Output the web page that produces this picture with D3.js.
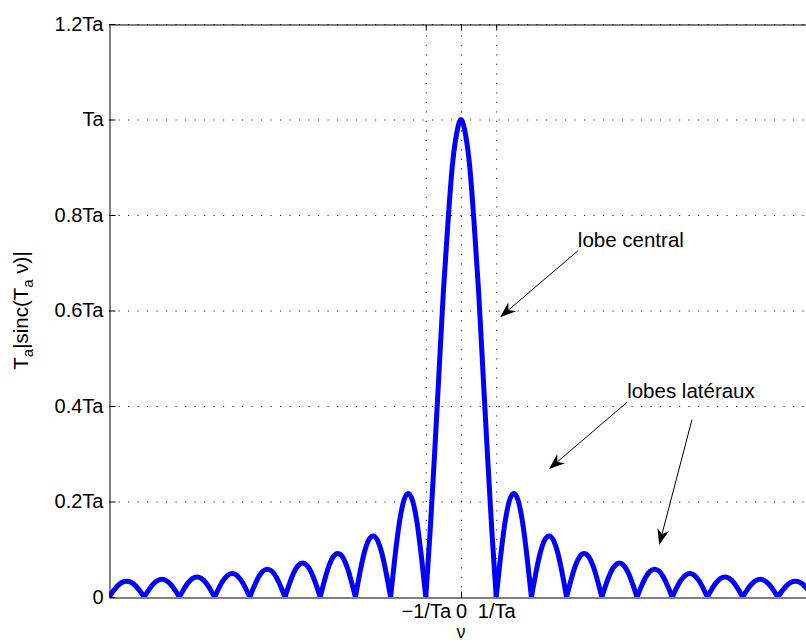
<!DOCTYPE html>
<html lang="fr">
  <head>
    <meta charset="UTF-8" />
    <title>Ta |sinc(Ta v)|</title>
    <script src="https://d3js.org/d3.v7.min.js"></script>
    <style>
      body {
        margin: 0;
        background: #fff;
      }
      svg {
        display: block;
        font-family: "Liberation Sans", Arial, sans-serif;
      }
    </style>
  </head>
  <body>
    <script>
      // tick values and labels (x in units of 1/Ta, y in units of Ta)
      const xTicks = [-1, 0, 1];
      const xTickLabels = ["\u22121/Ta", "0", "1/Ta"];
      const yTicks = [0, 0.2, 0.4, 0.6, 0.8, 1, 1.2];
      const yTickLabels = ["0", "0.2Ta", "0.4Ta", "0.6Ta", "0.8Ta", "Ta", "1.2Ta"];

      // central lobe
      const mainX = [-1, -0.875, -0.75, -0.625, -0.5, -0.375, -0.25, -0.125, 0,
                     0.125, 0.25, 0.375, 0.5, 0.625, 0.75, 0.875, 1];
      const mainY = [0, 0.14, 0.30, 0.47, 0.64, 0.78, 0.90, 0.97, 1.0,
                     0.97, 0.90, 0.78, 0.64, 0.47, 0.30, 0.14, 0];

      // side lobes: peak height of lobe [n, n+1] (same on the left side)
      const sideLobePeaks = [0.217, 0.128, 0.091, 0.071, 0.058, 0.049, 0.042, 0.037, 0.033];
      // normalised shape of one side lobe, sampled across its width
      const lobeFrac = [0, 0.125, 0.25, 0.375, 0.5, 0.625, 0.75, 0.875, 1];
      const lobeShape = [0, 0.39, 0.72, 0.93, 1, 0.93, 0.72, 0.39, 0];

      // annotations (data coordinates)
      const labels = [
        { text: "lobe central", x: 3.32, y: 0.733 },
        { text: "lobes lat\u00e9raux", x: 4.72, y: 0.417 }
      ];
      const arrows = [
        { x1: 3.32, y1: 0.725, x2: 1.11, y2: 0.586 },
        { x1: 4.72, y1: 0.408, x2: 2.5, y2: 0.268 },
        { x1: 6.56, y1: 0.371, x2: 5.63, y2: 0.109 }
      ];

      const width = 806, height = 644;
      const x = d3.scaleLinear().domain([-10, 10]).range([109, 813]);
      const y = d3.scaleLinear().domain([0, 1.2]).range([597, 24]);

      const svg = d3.select("body").append("svg")
        .attr("width", width)
        .attr("height", height);

      svg.append("defs").append("clipPath").attr("id", "plotclip")
        .append("rect")
        .attr("x", x(-10)).attr("y", y(1.2))
        .attr("width", x(10) - x(-10)).attr("height", y(0) - y(1.2));

      // dotted grid
      const grid = svg.append("g")
        .attr("stroke", "#222")
        .attr("stroke-width", 1)
        .attr("stroke-dasharray", "1.2,8.3");
      grid.selectAll(".gy").data(yTicks.filter(d => d > 0)).join("line")
        .attr("x1", x(-10)).attr("x2", x(10))
        .attr("y1", d => y(d) + 0.5).attr("y2", d => y(d) + 0.5);
      grid.selectAll(".gx").data(xTicks).join("line")
        .attr("x1", d => x(d) + 0.5).attr("x2", d => x(d) + 0.5)
        .attr("y1", y(0)).attr("y2", y(1.2));

      // axes, MATLAB style: ticks pointing inward, box all round
      function styleAxis(g) {
        g.attr("font-size", 20)
          .attr("font-family", "'Liberation Sans', Arial, sans-serif");
        g.selectAll("text").attr("fill", "#000");
        g.selectAll("line, path").attr("stroke", "#000");
      }

      svg.append("g")
        .attr("transform", `translate(${x(-10) + 0.5},0)`)
        .call(d3.axisLeft(y).tickValues(yTicks)
          .tickFormat((d, i) => yTickLabels[i])
          .tickSizeInner(-6).tickSizeOuter(0).tickPadding(6))
        .call(styleAxis);

      svg.append("g")
        .attr("transform", `translate(0,${y(0) + 0.5})`)
        .call(d3.axisBottom(x).tickValues(xTicks)
          .tickFormat((d, i) => xTickLabels[i])
          .tickSizeInner(-6).tickSizeOuter(0).tickPadding(6))
        .call(styleAxis);

      svg.append("g")
        .attr("transform", `translate(0,${y(1.2) + 0.5})`)
        .call(d3.axisTop(x).tickValues(xTicks).tickFormat("")
          .tickSizeInner(-6).tickSizeOuter(0))
        .call(styleAxis);

      svg.append("g")
        .attr("transform", `translate(${x(10) - 0.5},0)`)
        .call(d3.axisRight(y).tickValues(yTicks).tickFormat("")
          .tickSizeInner(-6).tickSizeOuter(0))
        .call(styleAxis);

      // curve: one path per lobe so the zeros stay sharp
      const lobes = [];
      lobes.push(mainX.map((v, i) => [v, mainY[i]]));
      sideLobePeaks.forEach((peak, i) => {
        const n = i + 1;
        lobes.push(lobeFrac.map((f, j) => [n + f, peak * lobeShape[j]]));
        lobes.push(lobeFrac.map((f, j) => [-n - 1 + f, peak * lobeShape[j]]));
      });

      const line = d3.line()
        .x(d => x(d[0]))
        .y(d => y(d[1]))
        .curve(d3.curveMonotoneX);

      svg.append("g")
        .attr("clip-path", "url(#plotclip)")
        .selectAll("path").data(lobes).join("path")
        .attr("d", line)
        .attr("fill", "none")
        .attr("stroke", "#0000ff")
        .attr("stroke-width", 5)
        .attr("stroke-linecap", "round")
        .attr("stroke-linejoin", "round");

      // annotations
      svg.selectAll(".note").data(labels).join("text")
        .attr("x", d => x(d.x))
        .attr("y", d => y(d.y))
        .attr("font-size", 20.5)
        .text(d => d.text);

      const ann = svg.append("g");
      arrows.forEach(a => {
        const x1 = x(a.x1), y1 = y(a.y1), x2 = x(a.x2), y2 = y(a.y2);
        const ang = Math.atan2(y2 - y1, x2 - x1);
        const len = 16, half = 6, notch = 11;
        const ux = Math.cos(ang), uy = Math.sin(ang);
        const bx = x2 - ux * len, by = y2 - uy * len;
        const nx = x2 - ux * notch, ny = y2 - uy * notch;
        ann.append("line")
          .attr("x1", x1).attr("y1", y1)
          .attr("x2", nx).attr("y2", ny)
          .attr("stroke", "#000").attr("stroke-width", 1);
        ann.append("path")
          .attr("d", `M${x2},${y2}L${bx - uy * half},${by + ux * half}` +
            `L${nx},${ny}L${bx + uy * half},${by - ux * half}Z`)
          .attr("fill", "#000");
      });

      // axis titles
      svg.append("text")
        .attr("x", x(0)).attr("y", 638)
        .attr("text-anchor", "middle")
        .attr("font-size", 18)
        .text("\u03bd");

      const yl = svg.append("text")
        .attr("transform", `translate(28,${(y(0) + y(1.2)) / 2}) rotate(-90)`)
        .attr("text-anchor", "middle")
        .attr("font-size", 20.5);
      yl.append("tspan").text("T");
      yl.append("tspan").attr("font-size", 15).attr("dy", 5).text("a");
      yl.append("tspan").attr("dy", -5).text("|sinc(T");
      yl.append("tspan").attr("font-size", 15).attr("dy", 5).text("a");
      yl.append("tspan").attr("dy", -5).text(" \u03bd)|");
    </script>
  </body>
</html>
